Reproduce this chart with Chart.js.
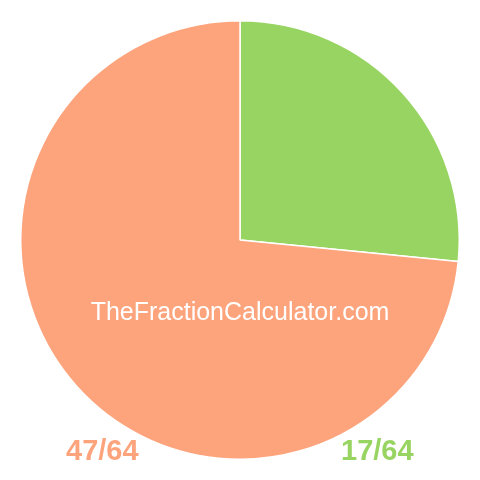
<!DOCTYPE html>
<html>
<head>
<meta charset="utf-8">
<script src="https://cdn.jsdelivr.net/npm/chart.js@4"></script>
<style>
  html, body { margin: 0; padding: 0; background: #fff; }
  #wrap { position: relative; width: 480px; height: 480px; }
  .lbl { position: absolute; font-family: "Liberation Sans", Arial, sans-serif; white-space: nowrap; line-height: 1; }
  #site { left: 0; width: 480px; text-align: center; top: 299px; font-size: 25px; color: #fff; }
  #lblA { left: 66px; top: 436px; font-size: 29px; font-weight: bold; color: #fda47d; }
  #lblB { left: 341px; top: 436px; font-size: 29px; font-weight: bold; color: #98d461; }
</style>
</head>
<body>
<div id="wrap">
  <canvas id="pie" width="480" height="480"></canvas>
  <div class="lbl" id="site">TheFractionCalculator.com</div>
  <div class="lbl" id="lblA">47/64</div>
  <div class="lbl" id="lblB">17/64</div>
</div>
<script>
// fracciones: verde primero (empieza arriba, sentido horario)
const labels = ['17/64', '47/64'];
const values = [17, 47];
const colors = ['#98d461', '#fda47d'];

document.addEventListener('DOMContentLoaded', function() {
  const ctx = document.getElementById('pie').getContext('2d');
  new Chart(ctx, {
    type: 'pie',
    data: {
      labels: labels,
      datasets: [{
        data: values,
        backgroundColor: colors,
        borderColor: '#ffffff',
        borderWidth: 1.5
      }]
    },
    options: {
      responsive: false,
      animation: false,
      layout: { padding: 20 },
      plugins: {
        legend: { display: false },
        tooltip: { enabled: false }
      }
    }
  });
});
</script>
</body>
</html>
